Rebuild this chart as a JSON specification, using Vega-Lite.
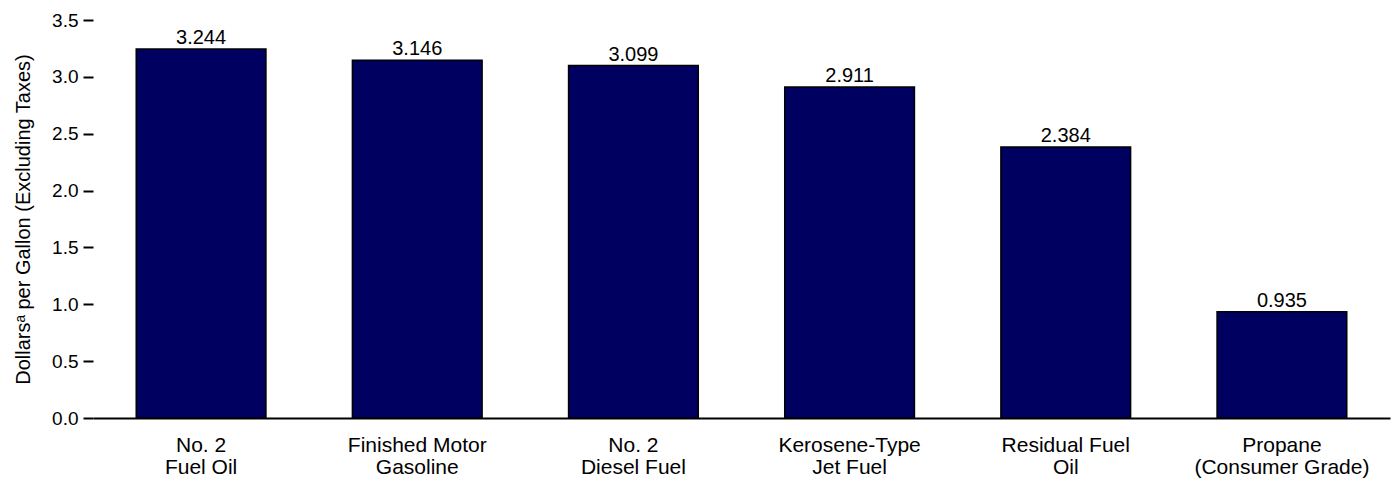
{
  "$schema": "https://vega.github.io/schema/vega-lite/v6.json",
  "autosize": "none",
  "width": 1297,
  "height": 398,
  "padding": {"left": 93, "top": 20, "right": 8, "bottom": 63},
  "background": "white",
  "config": {"view": {"stroke": null}, "font": "Liberation Sans"},
  "data": {
    "values": [
      {"fuel": "No. 2|Fuel Oil", "price": 3.244},
      {"fuel": "Finished Motor|Gasoline", "price": 3.146},
      {"fuel": "No. 2|Diesel Fuel", "price": 3.099},
      {"fuel": "Kerosene-Type|Jet Fuel", "price": 2.911},
      {"fuel": "Residual Fuel|Oil", "price": 2.384},
      {"fuel": "Propane|(Consumer Grade)", "price": 0.935}
    ]
  },
  "encoding": {
    "x": {
      "field": "fuel", "type": "nominal", "sort": null,
      "scale": {"paddingInner": 0.4, "paddingOuter": 0.2},
      "axis": {
        "title": null, "labelAngle": 0, "ticks": false,
        "domain": true, "domainColor": "black", "domainWidth": 2,
        "labelExpr": "split(datum.label, '|')",
        "labelFontSize": 21, "labelColor": "black", "labelPadding": 16,
        "labelLineHeight": 22, "labelFont": "Liberation Sans"
      }
    },
    "y": {
      "field": "price", "type": "quantitative",
      "scale": {"domain": [0, 3.5]},
      "axis": {
        "title": "Dollarsᵃ per Gallon (Excluding Taxes)",
        "titleFontSize": 20, "titleFontWeight": "normal", "titleColor": "black",
        "titleFont": "Liberation Sans", "titlePadding": 18,
        "values": [0, 0.5, 1, 1.5, 2, 2.5, 3, 3.5], "format": ".1f",
        "domain": false, "grid": false,
        "tickColor": "black", "tickWidth": 2, "tickSize": 10,
        "labelFontSize": 19, "labelColor": "black", "labelPadding": 5,
        "labelFont": "Liberation Sans"
      }
    }
  },
  "layer": [
    {"mark": {"type": "bar", "color": "#000060", "stroke": "black", "strokeWidth": 1.5}},
    {
      "mark": {"type": "text", "baseline": "alphabetic", "dy": -5, "fontSize": 20, "color": "black", "font": "Liberation Sans"},
      "encoding": {"text": {"field": "price", "type": "quantitative", "format": ".3f"}}
    }
  ]
}
